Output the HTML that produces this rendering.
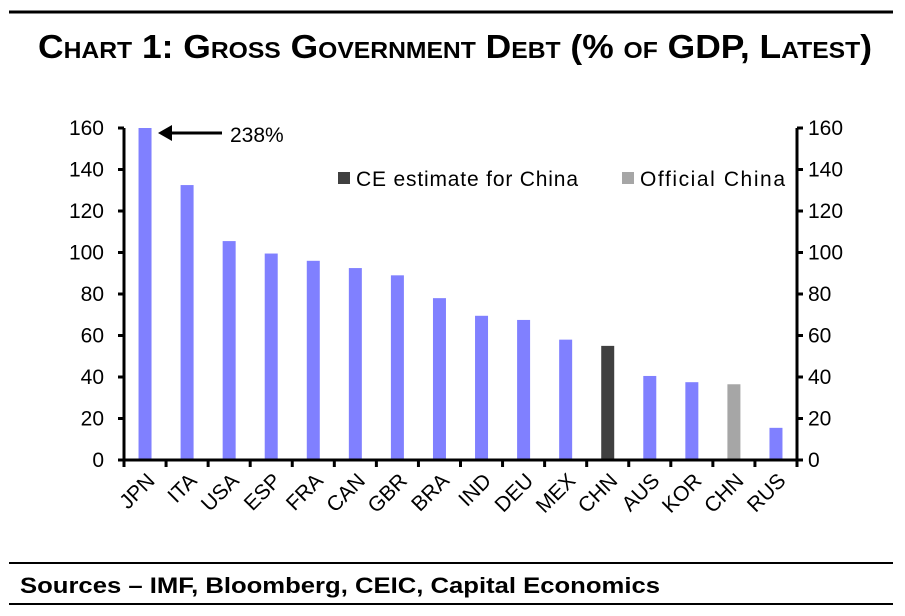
<!DOCTYPE html>
<html><head><meta charset="utf-8"><style>
body{margin:0;background:#fff;}
svg{display:block;font-family:"Liberation Sans",sans-serif;}
</style></head><body>
<svg width="905" height="616">
<line x1="9" y1="12" x2="893" y2="12" stroke="#000" stroke-width="3"/>
<text x="455" y="58" text-anchor="middle" font-size="33" font-weight="bold" style="font-variant:small-caps" textLength="834" lengthAdjust="spacingAndGlyphs">Chart 1: Gross Government Debt (% of GDP, Latest)</text>
<g id="plot"></g>
<line x1="9" y1="563" x2="893" y2="563" stroke="#000" stroke-width="2"/>
<text x="20" y="593" font-size="22" font-weight="bold" textLength="640" lengthAdjust="spacingAndGlyphs">Sources – IMF, Bloomberg, CEIC, Capital Economics</text>
<line x1="9" y1="604" x2="893" y2="604" stroke="#000" stroke-width="2"/>
</svg>
<script>
const categories=["JPN","ITA","USA","ESP","FRA","CAN","GBR","BRA","IND","DEU","MEX","CHN","AUS","KOR","CHN","RUS"];
const values=[238,132.5,105.5,99.5,96,92.5,89,78,69.5,67.5,58,55,40.5,37.5,36.5,15.5];
const seriesType=["c","c","c","c","c","c","c","c","c","c","c","e","c","c","o","c"];
const ticks=[0,20,40,60,80,100,120,140,160];
const yMax=160;
const NS="http://www.w3.org/2000/svg";
const g=document.getElementById("plot");
const x0=124,x1=797,yTop=128,yBot=460,band=(x1-x0)/categories.length;
const y=v=>yBot-(Math.min(v,yMax)/yMax)*(yBot-yTop);
const xc=i=>x0+band*(i+0.5);
function mk(t,a){const e=document.createElementNS(NS,t);for(const k in a)e.setAttribute(k,a[k]);g.appendChild(e);return e;}
const colors={c:"#8080ff",e:"#404040",o:"#a6a6a6"};
values.forEach((v,i)=>{
 const r=mk("rect",{x:xc(i)-6.5,y:y(v),width:13,height:yBot-y(v),fill:colors[seriesType[i]]});
 
 
});
let a=mk("line",{x1:x0,y1:yTop,x2:x0,y2:yBot,stroke:"#000","stroke-width":3});

a=mk("line",{x1:x1,y1:yTop,x2:x1,y2:yBot,stroke:"#000","stroke-width":3});

a=mk("line",{x1:x0-6,y1:yBot,x2:x1+6,y2:yBot,stroke:"#000","stroke-width":3});

ticks.forEach(t=>{
 const yy=y(t);
 let l=mk("line",{x1:x0-6,y1:yy,x2:x0,y2:yy,stroke:"#000","stroke-width":3});
 
 l=mk("line",{x1:x1,y1:yy,x2:x1+6,y2:yy,stroke:"#000","stroke-width":3});
 
 let tx=mk("text",{x:104,y:yy+7,"text-anchor":"end","font-size":21});tx.textContent=t;
 
 tx=mk("text",{x:808,y:yy+7,"font-size":21});tx.textContent=t;
 
});
for(let i=0;i<=categories.length;i++){
 const l=mk("line",{x1:x0+band*i,y1:yBot,x2:x0+band*i,y2:yBot+7,stroke:"#000","stroke-width":3});
 
}
categories.forEach((c,i)=>{
 const px=xc(i)+11,py=yBot+22;
 const t=mk("text",{x:px,y:py,"text-anchor":"end","font-size":21,transform:`rotate(-45 ${px} ${py})`});
 t.textContent=c;
 
});
let ar=mk("line",{x1:222,y1:133,x2:168,y2:133,stroke:"#000","stroke-width":3});

ar=mk("polygon",{points:"158,133 172,125 172,141",fill:"#000"});

let an=mk("text",{x:230,y:142,"font-size":21});an.textContent=values[0]+"%";

let lg=mk("rect",{x:338,y:172,width:12,height:12,fill:colors.e});

lg=mk("text",{x:356,y:186,"font-size":21,textLength:222});lg.textContent="CE estimate for China";

lg=mk("rect",{x:622,y:172,width:12,height:12,fill:colors.o});

lg=mk("text",{x:640,y:186,"font-size":21,textLength:145});lg.textContent="Official China";

</script>
</body></html>
